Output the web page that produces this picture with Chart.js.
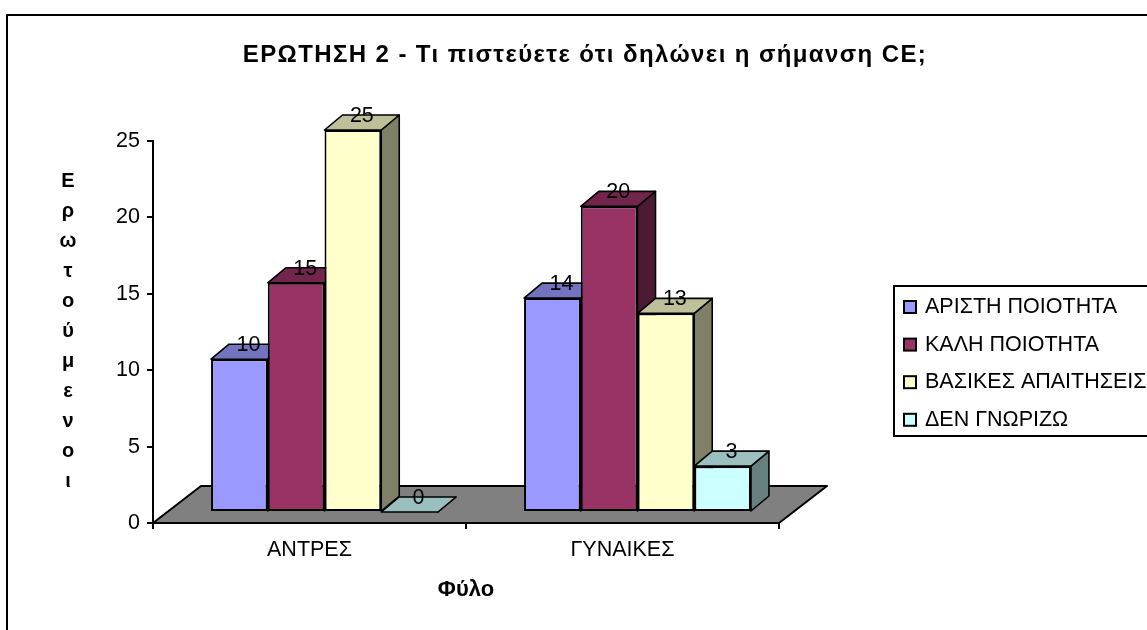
<!DOCTYPE html>
<html>
<head>
<meta charset="utf-8">
<style>html,body{margin:0;padding:0;background:#fff;overflow:hidden}canvas{display:block}</style>
<script src="https://cdn.jsdelivr.net/npm/chart.js@4/dist/chart.umd.min.js"></script>
</head>
<body>
<canvas id="c" width="1147" height="630"></canvas>
<script>
const categories = ['ΑΝΤΡΕΣ', 'ΓΥΝΑΙΚΕΣ'];
const aristi = [10, 14];
const kali = [15, 20];
const vasikes = [25, 13];
const denGnorizo = [0, 3];
const seriesNames = ['ΑΡΙΣΤΗ ΠΟΙΟΤΗΤΑ', 'ΚΑΛΗ ΠΟΙΟΤΗΤΑ', 'ΒΑΣΙΚΕΣ ΑΠΑΙΤΗΣΕΙΣ', 'ΔΕΝ ΓΝΩΡΙΖΩ'];
const frontColors = ['#9999FF', '#993366', '#FFFFCC', '#CCFFFF'];
const topColors = ['#7373BF', '#73264D', '#BFBF99', '#99BFBF'];
const sideColors = ['#4D4D80', '#4D1A33', '#808066', '#668080'];
const chartTitle = 'ΕΡΩΤΗΣΗ 2 - Τι πιστεύετε ότι δηλώνει η σήμανση CE;';
const yTitleLetters = ['Ε','ρ','ω','τ','ο','ύ','μ','ε','ν','ο','ι'];
const xTitle = 'Φύλο';

const FONT = '"Liberation Sans", Arial, sans-serif';
const SHIFT_X = 15, SHIFT_Y = -11;   // bars stand inside the floor
const DEPTH_X = 18, DEPTH_Y = -15;   // bar depth
const FLOOR_X = 48, FLOOR_Y = -37;   // floor depth

function poly(ctx, pts, fill, stroke, lw) {
  ctx.beginPath();
  pts.forEach((p, i) => i ? ctx.lineTo(p[0], p[1]) : ctx.moveTo(p[0], p[1]));
  ctx.closePath();
  ctx.fillStyle = fill;
  ctx.fill();
  ctx.strokeStyle = stroke;
  ctx.lineWidth = lw;
  ctx.lineJoin = 'round';
  ctx.stroke();
}

const scene3d = {
  id: 'scene3d',
  beforeDatasetsDraw(chart) {
    const ctx = chart.ctx, a = chart.chartArea;
    ctx.save();
    // floor
    poly(ctx, [[a.left, a.bottom], [a.left + FLOOR_X, a.bottom + FLOOR_Y],
      [a.right + FLOOR_X, a.bottom + FLOOR_Y], [a.right, a.bottom]], '#808080', '#000', 2);
    // side and top faces, left to right
    categories.forEach((_, j) => {
      chart.data.datasets.forEach((ds, i) => {
        const b = chart.getDatasetMeta(i).data[j];
        const l = b.x - b.width / 2 + SHIFT_X, r = b.x + b.width / 2 + SHIFT_X;
        const t = b.y + SHIFT_Y, bt = b.base + SHIFT_Y;
        poly(ctx, [[r, t], [r + DEPTH_X, t + DEPTH_Y], [r + DEPTH_X, bt + DEPTH_Y], [r, bt]], sideColors[i], '#000', 1.6);
        poly(ctx, [[l, t], [l + DEPTH_X, t + DEPTH_Y], [r + DEPTH_X, t + DEPTH_Y], [r, t]], topColors[i], '#000', 1.6);
      });
    });
    ctx.restore();
    ctx.save();
    ctx.translate(SHIFT_X, SHIFT_Y);
  },
  afterDatasetsDraw(chart) {
    const ctx = chart.ctx;
    ctx.restore();
    ctx.save();
    ctx.fillStyle = '#000';
    ctx.textAlign = 'center';
    ctx.textBaseline = 'middle';
    ctx.font = '21.5px ' + FONT;
    chart.data.datasets.forEach((ds, i) => {
      chart.getDatasetMeta(i).data.forEach((b, j) => {
        ctx.fillText(String(ds.data[j]), b.x + SHIFT_X + DEPTH_X / 2, b.y + SHIFT_Y + DEPTH_Y + 1);
      });
    });
    ctx.restore();
  },
  afterDraw(chart) {
    const ctx = chart.ctx;
    ctx.save();
    // outer frame
    ctx.strokeStyle = '#000';
    ctx.lineWidth = 2;
    ctx.beginPath();
    ctx.moveTo(7, 640); ctx.lineTo(7, 15); ctx.lineTo(1160, 15);
    ctx.stroke();
    // title
    ctx.fillStyle = '#000';
    ctx.textAlign = 'center';
    ctx.textBaseline = 'middle';
    ctx.font = 'bold 24px ' + FONT;
    ctx.letterSpacing = '1.4px';
    ctx.fillText(chartTitle, 585, 55);
    ctx.letterSpacing = '0px';
    // stacked y title
    ctx.font = 'bold 20px ' + FONT;
    yTitleLetters.forEach((ch, i) => ctx.fillText(ch, 68, 181 + i * 30));
    // legend
    ctx.lineWidth = 2;
    ctx.strokeStyle = '#000';
    ctx.beginPath();
    ctx.moveTo(1160, 286); ctx.lineTo(894, 286); ctx.lineTo(894, 436); ctx.lineTo(1160, 436);
    ctx.stroke();
    ctx.textAlign = 'left';
    ctx.font = '21.5px ' + FONT;
    seriesNames.forEach((name, i) => {
      const y = 307 + i * 37.6;
      ctx.fillStyle = frontColors[i];
      ctx.fillRect(904, y - 6, 12, 12);
      ctx.strokeRect(904, y - 6, 12, 12);
      ctx.fillStyle = '#000';
      ctx.fillText(name, 925, y);
    });
    ctx.restore();
  }
};

const allValues = [aristi, kali, vasikes, denGnorizo];
new Chart(document.getElementById('c'), {
  type: 'bar',
  data: {
    labels: categories,
    datasets: allValues.map((vals, i) => ({
      label: seriesNames[i],
      data: vals,
      backgroundColor: frontColors[i],
      borderColor: '#000',
      borderWidth: 2,
      borderSkipped: false,
      clip: false
    }))
  },
  plugins: [scene3d],
  options: {
    responsive: false,
    animation: false,
    events: [],
    layout: { padding: { left: 0, right: 368, top: 141, bottom: 0 } },
    datasets: { bar: { categoryPercentage: 0.725, barPercentage: 1 } },
    plugins: { legend: { display: false }, title: { display: false }, tooltip: { enabled: false } },
    scales: {
      x: {
        afterFit(s) { s.height = 107; },
        grid: { drawOnChartArea: false, offset: true, color: '#000', lineWidth: 2, tickLength: 6, tickColor: '#000' },
        border: { color: '#000', width: 2 },
        ticks: { color: '#000', font: { family: FONT, size: 21.5 }, padding: 8, maxRotation: 0 },
        title: { display: true, text: xTitle, color: '#000', font: { family: FONT, size: 22, weight: 'bold' }, padding: { top: 0, bottom: 27 } }
      },
      y: {
        afterFit(s) { s.width = 153; },
        min: 0, max: 25,
        grid: { drawOnChartArea: false, color: '#000', lineWidth: 2, tickLength: 6, tickColor: '#000' },
        border: { color: '#000', width: 2 },
        ticks: { stepSize: 5, color: '#000', font: { family: FONT, size: 21.5 }, padding: 7 }
      }
    }
  }
});
</script>
</body>
</html>
